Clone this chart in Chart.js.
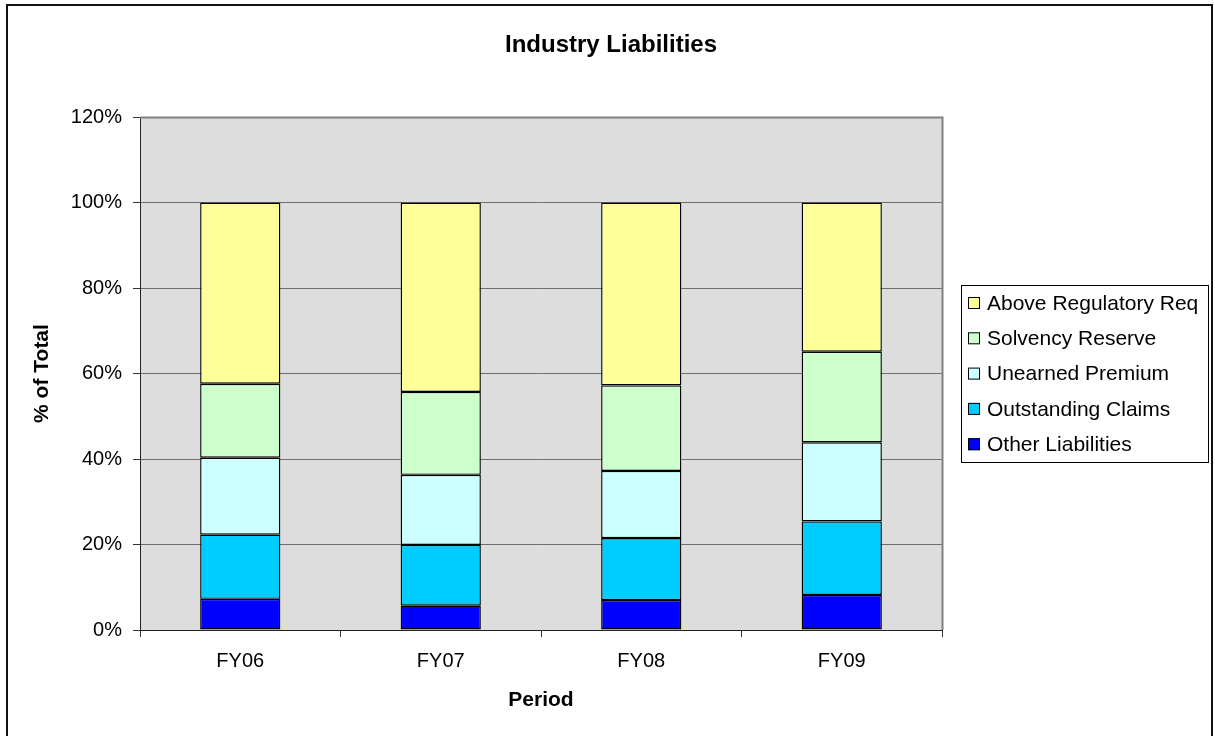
<!DOCTYPE html>
<html>
<head>
<meta charset="utf-8">
<script src="https://cdn.jsdelivr.net/npm/chart.js@4/dist/chart.umd.min.js"></script>
<style>
  html, body { margin: 0; padding: 0; background: #fff; }
  #wrap { width: 1215px; height: 736px; }
</style>
</head>
<body>
<div id="wrap"><canvas id="myChart" width="1215" height="736"></canvas></div>
<script>
const chartTitle = "Industry Liabilities";
const periods = ["FY06", "FY07", "FY08", "FY09"];

// segment sizes in % of total, bottom to top
const otherLiabilities = [7.3, 5.7, 7.0, 8.2];
const outstandingClaims = [15.0, 14.2, 14.5, 17.2];
const unearnedPremium = [18.0, 16.4, 15.7, 18.5];
const solvencyReserve = [17.3, 19.4, 20.0, 21.2];
const aboveRegulatory = [42.4, 44.3, 42.8, 34.9];

const yTicks = [0, 20, 40, 60, 80, 100, 120];

const FONT = "'Liberation Sans', Arial, sans-serif";

// white page, outer frame, grey plot area and the centred title
const frame = {
    id: "frame",
    beforeDraw(chart) {
        const ctx = chart.ctx;
        const a = chart.chartArea;
        ctx.save();
        ctx.fillStyle = "#fff";
        ctx.fillRect(0, 0, chart.width, chart.height);
        ctx.strokeStyle = "#111";
        ctx.lineWidth = 2;
        ctx.strokeRect(7, 5, 1205, 740);
        ctx.fillStyle = "#dddddd";
        ctx.fillRect(a.left, a.top, a.right - a.left, a.bottom - a.top);
        ctx.fillStyle = "#000";
        ctx.font = "bold 24px " + FONT;
        ctx.textAlign = "center";
        ctx.textBaseline = "middle";
        ctx.fillText(chartTitle, 611, 45);
        ctx.restore();
    },
    beforeDatasetsDraw(chart) {
        const ctx = chart.ctx;
        const a = chart.chartArea;
        ctx.save();
        ctx.strokeStyle = "#808080";
        ctx.lineWidth = 2;
        ctx.beginPath();
        ctx.moveTo(a.left, a.top + 0.5);
        ctx.lineTo(a.right + 0.5, a.top + 0.5);
        ctx.lineTo(a.right + 0.5, a.bottom);
        ctx.stroke();
        ctx.restore();
    }
};

// boxed legend on the right, top series first
const boxLegend = {
    id: "boxLegend",
    afterDraw(chart) {
        const ctx = chart.ctx;
        const left = 961, top = 285, w = 247, h = 177;
        ctx.save();
        ctx.fillStyle = "#fff";
        ctx.fillRect(left, top, w, h);
        ctx.strokeStyle = "#000";
        ctx.lineWidth = 1;
        ctx.strokeRect(left + 0.5, top + 0.5, w, h);
        ctx.font = "21px " + FONT;
        ctx.textBaseline = "middle";
        const sets = chart.data.datasets.slice().reverse();
        sets.forEach((ds, i) => {
            const y = top + 18 + i * 35.3;
            ctx.fillStyle = ds.backgroundColor;
            ctx.fillRect(968, y - 6, 12, 12);
            ctx.strokeStyle = "#000";
            ctx.strokeRect(968.5, y - 5.5, 11, 11);
            ctx.fillStyle = "#000";
            ctx.fillText(ds.label, 987, y + 1);
        });
        ctx.restore();
    }
};

function series(label, data, color) {
    return {
        label: label,
        data: data,
        backgroundColor: color,
        borderColor: "#000",
        borderWidth: 1.4,
        borderSkipped: false,
        categoryPercentage: 1,
        barPercentage: 0.4
    };
}

const ctx = document.getElementById("myChart").getContext("2d");
const chart = new Chart(ctx, {
    type: "bar",
    data: {
        labels: periods,
        datasets: [
            series("Other Liabilities", otherLiabilities, "#0000ff"),
            series("Outstanding Claims", outstandingClaims, "#00ccff"),
            series("Unearned Premium", unearnedPremium, "#ccffff"),
            series("Solvency Reserve", solvencyReserve, "#ccffcc"),
            series("Above Regulatory Req", aboveRegulatory, "#ffff99")
        ]
    },
    options: {
        responsive: false,
        animation: false,
        layout: { padding: { left: 8, right: 273, top: 117, bottom: 8 } },
        plugins: {
            legend: { display: false },
            tooltip: { enabled: false },
            title: { display: false }
        },
        scales: {
            x: {
                stacked: true,
                afterFit(scale) { scale.height = 98; },
                grid: {
                    offset: true,
                    drawOnChartArea: false,
                    tickLength: 7,
                    tickColor: "#333"
                },
                border: { color: "#222", width: 1 },
                ticks: {
                    color: "#000",
                    padding: 12,
                    font: { family: FONT, size: 20 }
                },
                title: {
                    display: true,
                    text: "Period",
                    color: "#000",
                    font: { family: FONT, size: 21, weight: "bold" },
                    padding: { top: 0, bottom: 15 }
                }
            },
            y: {
                stacked: true,
                min: 0,
                max: 120,
                afterFit(scale) { scale.width = 132; },
                afterBuildTicks(scale) { scale.ticks = yTicks.map(v => ({ value: v })); },
                grid: {
                    color: "#6e6e6e",
                    lineWidth: 1,
                    tickLength: 7,
                    tickColor: "#333"
                },
                border: { color: "#222", width: 1 },
                ticks: {
                    color: "#000",
                    padding: 11,
                    font: { family: FONT, size: 20 },
                    callback: v => v + "%"
                },
                title: {
                    display: true,
                    text: "% of Total",
                    color: "#000",
                    font: { family: FONT, size: 21, weight: "bold" },
                    padding: { top: 22, bottom: 0 }
                }
            }
        }
    },
    plugins: [frame, boxLegend]
});
</script>
</body>
</html>
